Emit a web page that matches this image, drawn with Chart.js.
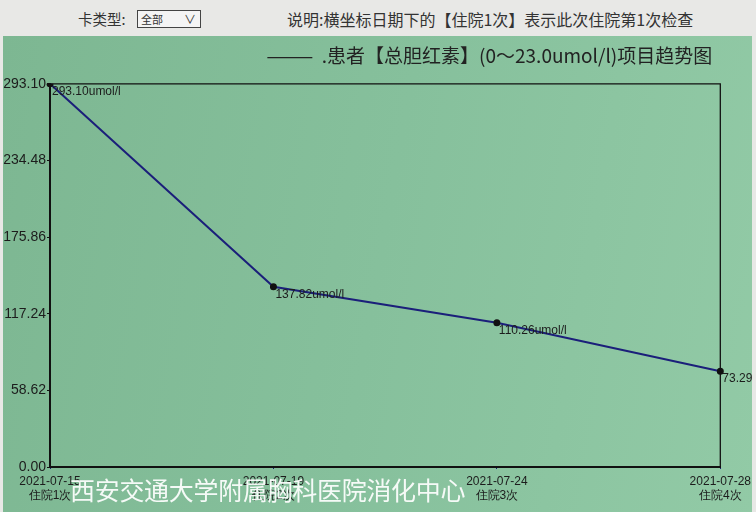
<!DOCTYPE html>
<html>
<head>
<meta charset="utf-8">
<script src="https://cdn.jsdelivr.net/npm/chart.js@4.4.1/dist/chart.umd.min.js"></script>
<style>
  html, body { margin: 0; padding: 0; }
  body { width: 756px; height: 512px; position: relative; overflow: hidden; background: #e8e8e6; font-family: "Noto Sans CJK SC", sans-serif; }
  #header1 { position: absolute; left: 78px; top: 8px; font-size: 14.5px; color: #333; }
  #selbox { position: absolute; left: 137px; top: 10px; width: 62px; height: 16px; border: 1px solid #444; background: #f4f4f4; font-size: 11px; color: #333; line-height: 16px; }
  #selbox span { position: absolute; left: 3px; }
  #selbox b { position: absolute; right: 4px; top: 0; font-weight: normal; font-size: 12px; }
  #header2 { position: absolute; left: 287px; top: 7px; font-size: 16px; color: #333; }
  #panel { position: absolute; left: 3px; top: 36px; width: 749px; height: 476px;
           background: linear-gradient(100deg, #7db792 0%, #86c09c 50%, #92caa6 100%); }
  #wrap { position: absolute; left: 0; top: 0; width: 752px; height: 512px; overflow: hidden; }
  #mark { position: absolute; left: 70px; top: 471px; font-size: 25px; color: #fff; opacity: 0.92; letter-spacing: -0.3px; }
</style>
</head>
<body>
<div id="header1">卡类型:</div>
<div id="selbox"><span>全部</span><b>∨</b></div>
<div id="header2">说明:横坐标日期下的【住院1次】表示此次住院第1次检查</div>
<div id="panel"></div>
<div id="wrap"><canvas id="trend" width="756" height="512"></canvas></div>
<div id="mark">西安交通大学附属胸科医院消化中心</div>
<script>
// data
const dates = ["2021-07-15", "2021-07-19", "2021-07-24", "2021-07-28"];
const visits = ["住院1次", "住院2次", "住院3次", "住院4次"];
const values = [293.10, 137.82, 110.26, 73.29];
const yTicks = [0, 58.62, 117.24, 175.86, 234.48, 293.10];
const unit = "umol/l";
const titleText = "———  .患者【总胆红素】(0～23.0umol/l)项目趋势图\u2002 ";

const labels = dates.map((d, i) => [d, visits[i]]);

// frame round the plot area
const framePlugin = {
    id: "frame",
    beforeDatasetsDraw(chart) {
        const a = chart.chartArea;
        const ctx = chart.ctx;
        ctx.save();
        ctx.strokeStyle = "#111";
        ctx.lineWidth = 1.3;
        ctx.beginPath();
        ctx.moveTo(a.left, a.top);
        ctx.lineTo(a.right, a.top);
        ctx.lineTo(a.right, a.bottom);
        ctx.stroke();
        ctx.restore();
    }
};

// value labels next to each point
const valueLabels = {
    id: "valueLabels",
    afterDatasetsDraw(chart) {
        const ctx = chart.ctx;
        const meta = chart.getDatasetMeta(0);
        ctx.save();
        ctx.font = "12px 'Liberation Sans', Arial, sans-serif";
        ctx.fillStyle = "#1c1c1c";
        ctx.textBaseline = "top";
        meta.data.forEach((pt, i) => {
            ctx.fillText(values[i].toFixed(2) + unit, pt.x + 2, pt.y + 2);
        });
        ctx.restore();
    }
};

new Chart(document.getElementById("trend"), {
    type: "line",
    data: {
        labels: labels,
        datasets: [{
            label: "总胆红素",
            data: values,
            borderColor: "#1b1f7a",
            borderWidth: 2,
            pointRadius: 2.5,
            pointBackgroundColor: "#111",
            pointBorderColor: "#111",
            tension: 0
        }]
    },
    options: {
        responsive: false,
        animation: false,
        devicePixelRatio: 1,
        layout: { padding: { left: 0, right: 30, top: 0, bottom: 0 } },
        plugins: {
            tooltip: { enabled: false },
            legend: { display: false },
            title: {
                display: true,
                text: titleText,
                position: "top",
                align: "end",
                color: "#222",
                font: { size: 19, weight: "normal", family: "'Noto Sans CJK SC', sans-serif" },
                padding: { top: 44, bottom: 17 }
            }
        },
        scales: {
            x: {
                offset: false,
                grid: { drawOnChartArea: false, drawTicks: true, tickLength: 2, color: "#1b1f7a" },
                border: { color: "#111", width: 2 },
                ticks: {
                    autoSkip: false,
                    maxRotation: 0,
                    padding: 5,
                    color: "#1c1c1c",
                    font: { size: 12, family: "'Liberation Sans', Arial, sans-serif" }
                },
                afterFit(scale) { scale.height = 45; }
            },
            y: {
                min: 0,
                max: 293.1,
                grid: { drawOnChartArea: false, drawTicks: true, tickLength: 3, color: "#111" },
                border: { color: "#111", width: 2 },
                ticks: {
                    padding: 1,
                    color: "#1c1c1c",
                    font: { size: 14, family: "'Liberation Sans', Arial, sans-serif" },
                    callback: (v) => Number(v).toFixed(2)
                },
                afterBuildTicks(scale) { scale.ticks = yTicks.map(v => ({ value: v })); },
                afterFit(scale) { scale.width = 50; }
            }
        }
    },
    plugins: [framePlugin, valueLabels]
});
</script>
</body>
</html>
